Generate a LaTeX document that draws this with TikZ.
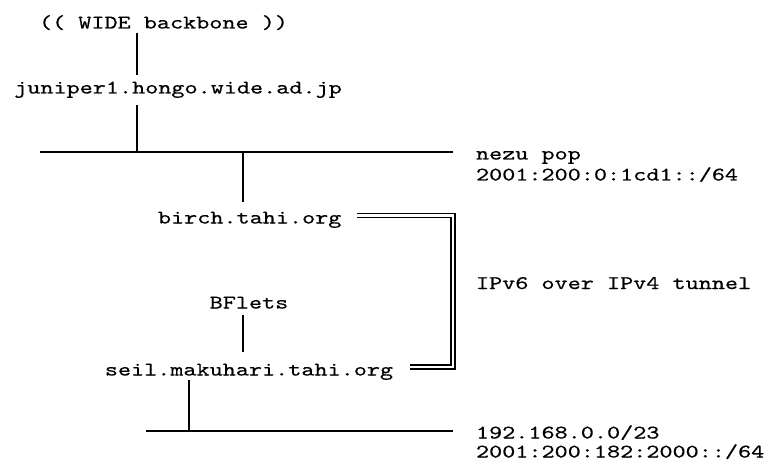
\documentclass[tikz,border=0pt]{standalone}
\usepackage{fontspec}
\newfontfamily\diagtt[Extension=.otf,FakeStretch=1.3,FakeBold=0.5]{lmmono10-regular}
\begin{document}
\begin{tikzpicture}[x=1pt,y=-1pt,
  lbl/.style={font=\diagtt\fontsize{19.2pt}{21pt}\selectfont, inner sep=0pt, outer sep=0pt},
  host/.style={lbl, anchor=base, text height=11.7pt, text depth=4.2pt},
  note/.style={lbl, anchor=base west},
  wire/.style={line width=1.7pt},
  tunnel/.style={line width=1.5pt, double, double distance=2.6pt}]
\useasboundingbox (0,0) rectangle (768,465);
% hosts
\node[host] (wide) at (163.5,28.5) {(( WIDE backbone ))};
\node[host] (juniper) at (178,93.5) {juniper1.hongo.wide.ad.jp};
\node[host] (birch) at (249.7,223.5) {birch.tahi.org};
\node[host] (bflets) at (249,308.5) {BFlets};
\node[host] (seil) at (249,375.5) {seil.makuhari.tahi.org};
% segments
\coordinate (b1w) at (40,152);
\coordinate (b1e) at (453,152);
\coordinate (tapA) at (137,152);
\coordinate (tapB) at (243,152);
\coordinate (b2w) at (146,431);
\coordinate (b2e) at (453,431);
\coordinate (tapC) at (189,431);
\draw[wire] (b1w) -- (b1e);
\draw[wire] (b2w) -- (b2e);
% labels
\node[note] (nezu1) at (476,159.5) {nezu pop};
\node[note] (nezu2) at (476,180.5) {2001:200:0:1cd1::/64};
\node[note] (tun) at (476,289) {IPv6 over IPv4 tunnel};
\node[note] (lan1) at (476,438.5) {192.168.0.0/23};
\node[note] (lan2) at (476,457.5) {2001:200:182:2000::/64};
% connectors
\draw[wire, shorten >=6.8pt] (wide.south -| tapA) -- (juniper.north -| tapA);
\draw[wire, shorten <=7.5pt] (juniper.south -| tapA) -- (tapA);
\draw[wire, shorten >=9.8pt] (tapB) -- (birch.north -| tapB);
\draw[wire, shorten <=2.5pt, shorten >=12pt] (bflets.south -| tapB) -- (seil.north -| tapB);
\draw[wire, shorten <=0.5pt] (seil.south -| tapC) -- (tapC);
% tunnel
\coordinate (tr) at (453,215.5);
\coordinate (br) at (453,367);
\draw[tunnel, shorten <=15.5pt, shorten >=17pt] (birch.east |- tr) -- (tr) -- (br) -- (seil.east |- br);
\end{tikzpicture}
\end{document}
